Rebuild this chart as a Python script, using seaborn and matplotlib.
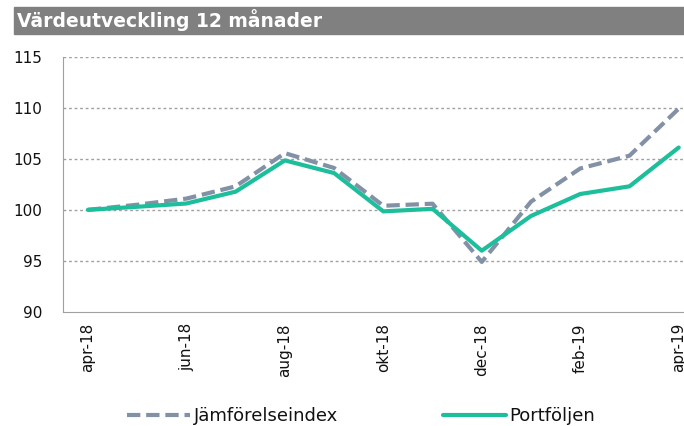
import numpy as np
import pandas as pd
import matplotlib.pyplot as plt
import seaborn as sns

manader = ['apr-18', 'maj-18', 'jun-18', 'jul-18', 'aug-18', 'sep-18', 'okt-18',
           'nov-18', 'dec-18', 'jan-19', 'feb-19', 'mar-19', 'apr-19']
jamforelseindex = [100.0, 100.5, 101.1, 102.3, 105.55, 104.1, 100.4,
                   100.6, 94.9, 100.8, 104.05, 105.3, 109.9]
portfoljen = [100.0, 100.3, 100.62, 101.78, 104.84, 103.6, 99.85,
              100.1, 96.0, 99.4, 101.55, 102.3, 106.1]

GRON = '#1DBE9B'
GRA = '#8291A6'

sns.set_style('white')
plt.rcParams['font.family'] = ['DejaVu Sans']

df = pd.DataFrame({'pos': np.arange(len(manader)),
                   'Jämförelseindex': jamforelseindex,
                   'Portföljen': portfoljen})

fig = plt.figure(figsize=(6.84, 4.26), dpi=100)
ax = fig.add_axes([63.3 / 684, 1 - 312 / 426, 1 - 63.3 / 684, (312 - 56.6) / 426])

# rubrik i grå list
fig.patches.append(plt.Rectangle((14 / 684, 1 - 34 / 426), 1, 27 / 426,
                                 transform=fig.transFigure, color='#808080', zorder=0))
fig.text(17 / 684, 1 - 20.5 / 426, 'Värdeutveckling 12 månader', color='white',
         fontsize=13.5, fontweight='bold', va='center', ha='left')

sns.lineplot(data=df, x='pos', y='Jämförelseindex', ax=ax, color=GRA, lw=3,
             label='Jämförelseindex', dashes=False)
ax.lines[-1].set_dashes((3.2, 1.4))
sns.lineplot(data=df, x='pos', y='Portföljen', ax=ax, color=GRON, lw=3,
             label='Portföljen')

ax.set_xlim(-0.5, (684 - 88.3) / 49.2)
ax.set_ylim(90, 115)
ax.set_yticks([90, 95, 100, 105, 110, 115])
ax.set_xlabel('')
ax.set_ylabel('')

# streck mellan kategorier, etiketter varannan månad
ax.set_xticks(np.arange(-0.5, len(manader), 2))
ax.set_xticklabels([])
ax.set_xticks(np.arange(0, len(manader), 2), minor=True)
ax.set_xticklabels(manader[::2], minor=True, rotation=90, fontsize=11, va='top')
ax.tick_params(axis='x', which='major', length=4, width=1, color='#A0A0A0', direction='out')
ax.tick_params(axis='x', which='minor', length=0, pad=8, labelcolor='#111111')
ax.tick_params(axis='y', length=5, width=1, color='#A0A0A0', direction='out', labelsize=11,
               pad=10, labelcolor='#111111')

for v in [95, 100, 105, 110, 115]:
    ax.axhline(v, color='#A0A0A0', lw=1, ls=(0, (2, 2)), zorder=0)

sns.despine(ax=ax, top=True, right=True)
ax.spines['left'].set_color('#A0A0A0')
ax.spines['bottom'].set_color('#A0A0A0')

leg = ax.legend(loc='center', bbox_to_anchor=(361 / 684, 10 / 426), bbox_transform=fig.transFigure,
                ncol=2, frameon=False, fontsize=13, handlelength=3.5, handletextpad=0.2,
                columnspacing=5.8)
for t in leg.get_texts():
    t.set_color('#111111')

fig.savefig('out.png', dpi=100)
